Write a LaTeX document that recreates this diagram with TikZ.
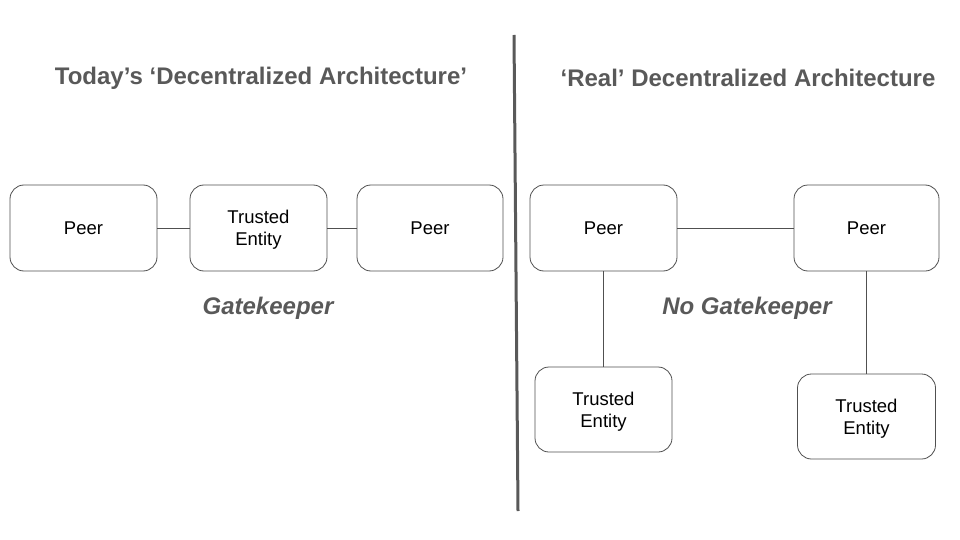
\documentclass[tikz,border=0pt]{standalone}
\usepackage{fontspec}
\setmainfont{Liberation Sans}
\definecolor{txtgray}{HTML}{595959}
\definecolor{boxgray}{HTML}{505050}
\begin{document}
\begin{tikzpicture}[x=1pt,y=-1pt,
  box/.style={draw=boxgray, line width=0.8pt, rounded corners=14pt, fill=white,
    align=center, font=\fontsize{18.5}{22}\selectfont, text=black, inner sep=0pt,
    text depth=0pt},
  title/.style={font=\fontsize{24}{28}\selectfont\bfseries, text=txtgray},
  gate/.style={font=\fontsize{24}{28}\selectfont\bfseries\itshape, text=txtgray},
  link/.style={draw=boxgray, line width=0.7pt}]
\useasboundingbox (0,0) rectangle (960,540);
% titles
\node[title] (t1) at (261,78) {Today’s ‘Decentralized Architecture’};
\node[title] (t2) at (748,78) {‘Real’ Decentralized Architecture};
% divider
\coordinate (d1) at (514,35);
\coordinate (d2) at (518,511);
\draw[draw=txtgray, line width=3pt] (d1) -- (d2);
% left
\node[box, minimum width=147pt, minimum height=86pt] (p1) at (83.5,228) {Peer};
\node[box, minimum width=137pt, minimum height=86pt] (te1) at (258.5,228) {Trusted\\Entity};
\node[box, minimum width=146pt, minimum height=86pt] (p2) at (430,228) {Peer};
\draw[link] (p1) -- (te1);
\draw[link] (te1) -- (p2);
\node[gate] (g1) at (268,308) {Gatekeeper};
% right
\node[box, minimum width=147pt, minimum height=86pt] (p3) at (603.5,228) {Peer};
\node[box, minimum width=145pt, minimum height=86pt] (p4) at (866.5,228) {Peer};
\node[box, minimum width=137pt, minimum height=85pt] (te3) at (603.5,409.5) {Trusted\\Entity};
\node[box, minimum width=138pt, minimum height=85pt] (te4) at (866.5,416.5) {Trusted\\Entity};
\draw[link] (p3) -- (p4);
\draw[link] (p3) -- (te3);
\draw[link] (p4) -- (te4);
\node[gate] (g2) at (747,308) {No Gatekeeper};
\end{tikzpicture}
\end{document}
